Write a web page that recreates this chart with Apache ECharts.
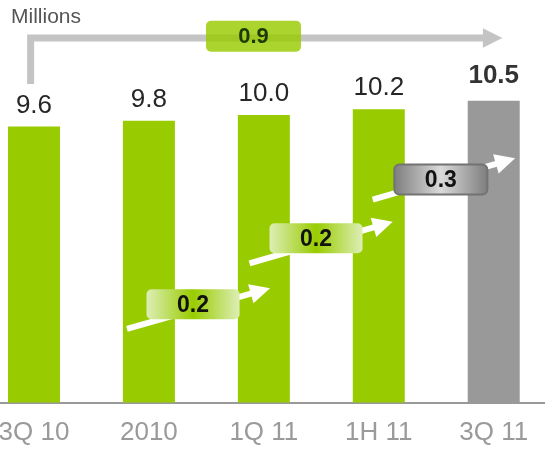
<!DOCTYPE html>
<html>
<head>
<meta charset="utf-8">
<script src="https://cdn.jsdelivr.net/npm/echarts@6/dist/echarts.min.js"></script>
<style>
  html, body { margin: 0; padding: 0; background: #ffffff; }
  #chart { width: 545px; height: 449px; }
</style>
</head>
<body>
<div id="chart"></div>
<script>
// Subscriber base per period (millions)
const categories = ['3Q 10', '2010', '1Q 11', '1H 11', '3Q 11'];
const subscribers = [9.6, 9.8, 10.0, 10.2, 10.5];
const unitLabel = 'Millions';

const FONT = '"Liberation Sans", Arial, Helvetica, sans-serif';
const GREEN = '#99cc00';
const GREY_BAR = '#999999';
const last = subscribers.length - 1;

// Growth between consecutive periods shown on the staircase, and overall growth
const stepPairs = [[1, 2], [2, 3], [3, 4]];
const steps = stepPairs.map(([a, b]) => subscribers[b] - subscribers[a]);
const totalGrowth = subscribers[last] - subscribers[0];

const chart = echarts.init(document.getElementById('chart'), null, { renderer: 'canvas' });

chart.setOption({
  animation: false,
  grid: { left: -23.5, right: -6.2, top: 0, bottom: 46.5, containLabel: false, outerBoundsMode: 'none' },
  xAxis: {
    type: 'category',
    data: categories,
    axisTick: { show: false },
    axisLine: { lineStyle: { color: '#999999', width: 2 } },
    axisLabel: { color: '#9a9a9a', fontSize: 26, fontFamily: FONT, margin: 17 }
  },
  yAxis: { type: 'value', min: 0, max: 14, show: false },
  series: [{
    type: 'bar',
    barWidth: 52,
    data: subscribers.map((v, i) => ({
      value: v,
      itemStyle: { color: i === last ? GREY_BAR : GREEN },
      label: i === last ? { fontWeight: 'bold', color: '#333333', distance: 12 } : {}
    })),
    label: {
      show: true,
      position: 'top',
      distance: 8,
      fontSize: 26,
      fontFamily: FONT,
      color: '#262626',
      formatter: p => Number(p.value).toFixed(1)
    }
  }]
});

// Helpers mapping (category position, value) to pixels through the axes
const x0 = chart.convertToPixel({ xAxisIndex: 0 }, 0);
const x1 = chart.convertToPixel({ xAxisIndex: 0 }, 1);
const px = c => x0 + (x1 - x0) * c;
const py = v => chart.convertToPixel({ yAxisIndex: 0 }, v);
const pt = ([c, v]) => [px(c), py(v)];

function arrow(from, to, color, width, headLen, headW) {
  const [sx, sy] = pt(from);
  const [tx, ty] = pt(to);
  const len = Math.hypot(tx - sx, ty - sy);
  const ux = (tx - sx) / len, uy = (ty - sy) / len;
  const bx = tx - ux * headLen, by = ty - uy * headLen;
  const nx = -uy * headW / 2, ny = ux * headW / 2;
  return [
    { type: 'line', z: 100, shape: { x1: sx, y1: sy, x2: bx + ux, y2: by + uy },
      style: { stroke: color, lineWidth: width, lineCap: 'butt' } },
    { type: 'polygon', z: 100, shape: { points: [[tx, ty], [bx + nx, by + ny], [bx - nx, by - ny]] },
      style: { fill: color } }
  ];
}

function box(center, w, h, fill, stroke, text, textColor, fontSize) {
  const [cx, cy] = pt(center);
  return [
    { type: 'rect', z: 101, shape: { x: cx - w / 2, y: cy - h / 2, width: w, height: h, r: 5 },
      style: { fill: fill, stroke: stroke || null, lineWidth: stroke ? 2 : 0 } },
    { type: 'text', z: 102, x: cx, y: cy + 1,
      style: { text: text, fill: textColor, font: 'bold ' + fontSize + 'px ' + FONT,
               align: 'center', verticalAlign: 'middle' } }
  ];
}

const greenFade = () => new echarts.graphic.LinearGradient(0, 0, 1, 0, [
  { offset: 0, color: '#ddeeb6' },
  { offset: 0.5, color: '#99cc00' },
  { offset: 1, color: '#ddeeb6' }
]);
const greyFade = new echarts.graphic.LinearGradient(0, 0, 1, 0, [
  { offset: 0, color: '#7c7c7c' },
  { offset: 0.3, color: '#b4b4b4' },
  { offset: 0.5, color: '#dadada' },
  { offset: 0.7, color: '#b4b4b4' },
  { offset: 1, color: '#7c7c7c' }
]);

// Layout of the annotations, in (category position, value) units
const bracketFoot = [-0.029, 11.08];
const bracketCorner = [-0.029, 12.68];
const bracketTip = [4.075, 12.68];
const totalBoxAt = [1.91, 12.74];
const stairArrows = [
  [[0.809, 2.563], [2.054, 3.972]],
  [[1.875, 4.835], [3.121, 6.289]],
  [[2.947, 7.057], [4.186, 8.494]]
];
const stairBoxes = [[1.384, 3.419], [2.454, 5.71], [3.540, 7.76]];

const elements = [];

// Unit caption
elements.push({ type: 'text', z: 100, x: 11, y: 7,
  style: { text: unitLabel, fill: '#555555', font: '21px ' + FONT } });

// Overall growth bracket arrow
const [fx, fy] = pt(bracketFoot);
const [kx, ky] = pt(bracketCorner);
const [hx, hy] = pt(bracketTip);
elements.push({ type: 'polyline', z: 99,
  shape: { points: [[fx, fy], [kx, ky], [hx - 19, hy]] },
  style: { stroke: '#c4c4c4', lineWidth: 7, lineJoin: 'miter', fill: null } });
elements.push({ type: 'polygon', z: 99,
  shape: { points: [[hx, hy], [hx - 19.5, hy - 9.8], [hx - 19.5, hy + 9.8]] },
  style: { fill: '#c4c4c4' } });
elements.push(...box(totalBoxAt, 95, 31, 'rgba(153,204,0,0.82)', null,
  totalGrowth.toFixed(1), '#1d3a00', 22));

// Period-on-period staircase
stairArrows.forEach(([a, b]) => elements.push(...arrow(a, b, '#ffffff', 6, 20, 20)));
stairBoxes.forEach((c, i) => {
  const isLast = i === stairBoxes.length - 1;
  elements.push(...box(c, 93, 30,
    isLast ? greyFade : greenFade(),
    isLast ? '#737373' : null,
    steps[i].toFixed(1), '#111111', 23));
});

chart.setOption({ graphic: { elements: elements } });
</script>
</body>
</html>
